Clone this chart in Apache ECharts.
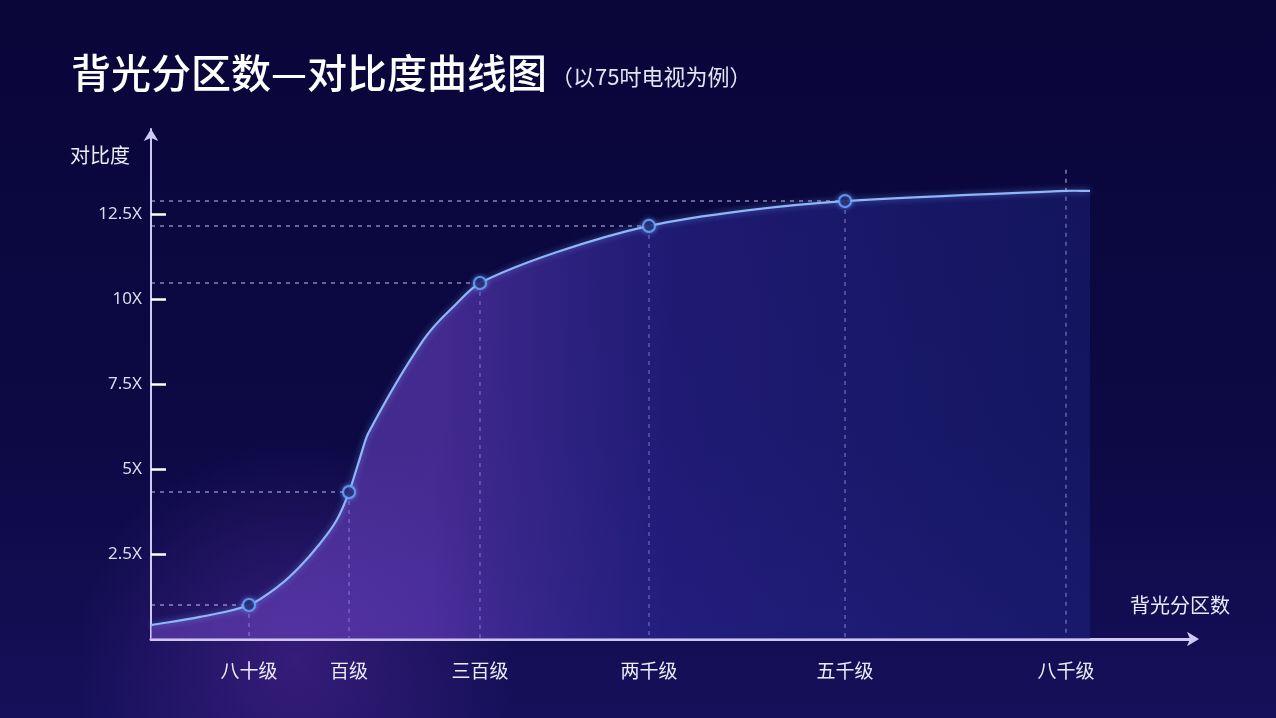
<!DOCTYPE html>
<html>
<head>
<meta charset="utf-8">
<script src="https://cdn.jsdelivr.net/npm/echarts@6/dist/echarts.min.js"></script>
<style>
html,body{margin:0;padding:0;background:#0b0840;}
#c{width:1276px;height:718px;}
</style>
</head>
<body>
<div id="c"></div>
<script>
// ---- data ----
const xCategories = ['八十级', '百级', '三百级', '两千级', '五千级', '八千级'];
const xPositions  = [9.39, 18.97, 31.51, 47.70, 66.48, 87.64];   // position of each category along the x axis (0-100)
const markerValues = [1.0, 4.32, 10.47, 12.15, 12.88];          // contrast at the first five categories
const lastGuideTop = 13.8;                                        // top of the 八千级 guide line
// points
const curveX = [0, 4.69, 9.39, 12.36, 14.27, 16.19, 17.79, 18.97, 19.86, 20.81, 26.08, 29.28, 31.51, 38.89, 47.70, 56.9, 66.48, 87.64, 89.94];
const curveY = [0.41, 0.65, 1.0, 1.59, 2.13, 2.81, 3.50, 4.32, 5.17, 6.05, 8.79, 9.87, 10.47, 11.38, 12.15, 12.6, 12.88, 13.18, 13.18];
const yTicks = [2.5, 5, 7.5, 10, 12.5];

const chart = echarts.init(document.getElementById('c'));

const curveData = curveX.map((x, i) => [x, curveY[i]]);
const markerData = markerValues.map((v, i) => [xPositions[i], v]);
const guideData = xPositions.map((x, i) => [x, i < markerValues.length ? markerValues[i] : lastGuideTop, i < markerValues.length ? 1 : 0]);

const guideStyle = { stroke: 'rgba(205,195,245,0.65)', lineWidth: 1.5, lineDash: [4, 5] };

// cubic Hermite path (finite-difference tangents) through pixel points
function smoothPath(p) {
  const n = p.length;
  const t = [];
  for (let k = 0; k < n; k++) {
    const a = p[Math.max(0, k - 1)], b = p[Math.min(n - 1, k + 1)];
    t[k] = (b[1] - a[1]) / (b[0] - a[0]);
  }
  let d = 'M' + p[0][0] + ' ' + p[0][1];
  for (let k = 0; k < n - 1; k++) {
    const h = p[k + 1][0] - p[k][0];
    const c1x = p[k][0] + h / 3, c1y = p[k][1] + t[k] * h / 3;
    const c2x = p[k + 1][0] - h / 3, c2y = p[k + 1][1] - t[k + 1] * h / 3;
    d += ' C' + c1x + ' ' + c1y + ' ' + c2x + ' ' + c2y + ' ' + p[k + 1][0] + ' ' + p[k + 1][1];
  }
  return d;
}

chart.setOption({
  backgroundColor: {
    type: 'linear', x: 0, y: 0, x2: 0, y2: 1,
    colorStops: [
      { offset: 0, color: '#0a063a' },
      { offset: 0.6, color: '#0c0944' },
      { offset: 1, color: '#16105a' }
    ]
  },
  graphic: [
    {
      type: 'rect', z: -10, silent: true,
      shape: { x: -200, y: 420, width: 1100, height: 400 },
      style: {
        fill: {
          type: 'radial', x: 0.45, y: 0.6, r: 0.55,
          colorStops: [
            { offset: 0, color: 'rgba(80,40,150,0.55)' },
            { offset: 1, color: 'rgba(80,40,150,0)' }
          ]
        }
      }
    }
  ],
  title: {
    left: 66, top: 44,
    text: '{a|背光分区数—对比度曲线图}{b|（以75吋电视为例）}',
    textStyle: {
      rich: {
        a: { fontSize: 40, color: '#ffffff', fontWeight: 500, fontFamily: 'Noto Sans CJK SC', lineHeight: 48 },
        b: { fontSize: 22, color: '#e4e4f4', fontWeight: 'normal', fontFamily: 'Noto Sans CJK SC', lineHeight: 48, padding: [8, 0, 0, 4] }
      }
    }
  },
  grid: { left: 151, right: 81, top: 129, bottom: 79 },
  xAxis: {
    type: 'value', min: 0, max: 100,
    name: '背光分区数',
    nameLocation: 'end',
    nameGap: -15,
    nameTextStyle: { color: '#e8e8f6', fontSize: 20, fontFamily: 'Noto Sans CJK SC', align: 'center', verticalAlign: 'bottom', padding: [0, 0, 24, 0] },
    axisLine: { show: true, symbol: ['none', 'arrow'], symbolSize: [11, 12], symbolOffset: [0, 4], lineStyle: { color: '#cfc8f4', width: 3 } },
    axisTick: { show: false },
    splitLine: { show: false },
    axisLabel: {
      customValues: xPositions,
      color: '#ececf8', fontSize: 19, fontFamily: 'Noto Sans CJK SC', margin: 22,
      formatter: function (v) {
        let best = 0;
        xPositions.forEach((p, i) => { if (Math.abs(p - v) < Math.abs(xPositions[best] - v)) best = i; });
        return xCategories[best];
      }
    }
  },
  yAxis: {
    type: 'value', min: 0, max: 15, interval: 2.5,
    name: '对比度',
    nameLocation: 'end',
    nameGap: -26,
    nameTextStyle: { color: '#ececf8', fontSize: 20, fontFamily: 'Noto Sans CJK SC', align: 'right', verticalAlign: 'middle', padding: [0, 21, 0, 0] },
    axisLine: { show: true, symbol: ['none', 'arrow'], symbolSize: [11, 12], lineStyle: { color: '#cfc8f4', width: 2 } },
    axisTick: { show: true, inside: true, length: 15, customValues: yTicks, lineStyle: { color: '#ffffff', width: 2.5 } },
    splitLine: { show: false },
    axisLabel: {
      customValues: yTicks,
      color: '#dcdcef', fontSize: 17, fontFamily: 'Noto Sans', margin: 9,
      padding: [6, 0, 0, 0],
      formatter: v => v + 'X'
    }
  },
  series: [
    {
      type: 'custom',
      z: 1,
      silent: true,
      renderItem: function (params, api) {
        const x = api.value(0), y = api.value(1), hasH = api.value(2);
        const p = api.coord([x, y]);
        const base = api.coord([x, 0]);
        const axisP = api.coord([0, y]);
        const children = [
          { type: 'line', shape: { x1: p[0], y1: p[1], x2: base[0], y2: base[1] }, style: guideStyle }
        ];
        if (hasH) {
          children.push({ type: 'line', shape: { x1: axisP[0], y1: axisP[1], x2: p[0], y2: p[1] }, style: guideStyle });
        }
        return { type: 'group', children: children };
      },
      data: guideData
    },
    {
      // smooth curve + area drawn through the axis scales
      type: 'custom',
      z: 2,
      silent: true,
      clip: false,
      renderItem: function (params, api) {
        if (params.dataIndex !== 0) return null;
        const pts = curveData.map(d => api.coord(d));
        const line = smoothPath(pts);
        const b0 = api.coord([curveX[0], 0]);
        const b1 = api.coord([curveX[curveX.length - 1], 0]);
        const area = line + ' L' + b1[0] + ' ' + b1[1] + ' L' + b0[0] + ' ' + b0[1] + ' Z';
        return {
          type: 'group',
          children: [
            {
              type: 'path', shape: { pathData: area },
              style: {
                fill: {
                  type: 'linear', x: 0, y: 0, x2: 1, y2: 0,
                  colorStops: [
                    { offset: 0, color: 'rgba(110,70,190,0.55)' },
                    { offset: 0.3, color: 'rgba(105,65,195,0.6)' },
                    { offset: 0.55, color: 'rgba(50,45,165,0.5)' },
                    { offset: 1, color: 'rgba(35,45,150,0.35)' }
                  ]
                },
                stroke: 'none'
              }
            },
            {
              type: 'path', shape: { pathData: line },
              style: { fill: 'none', stroke: '#8fb6f6', lineWidth: 2.2, shadowColor: 'rgba(120,170,255,0.6)', shadowBlur: 6 }
            }
          ]
        };
      },
      data: curveData
    },
    {
      type: 'scatter',
      z: 5,
      data: markerData,
      symbol: 'circle',
      symbolSize: 12,
      itemStyle: { color: '#120c4a', borderColor: '#6fa9ff', borderWidth: 2.2, shadowColor: 'rgba(100,160,255,0.7)', shadowBlur: 5 }
    }
  ]
});
</script>
</body>
</html>
